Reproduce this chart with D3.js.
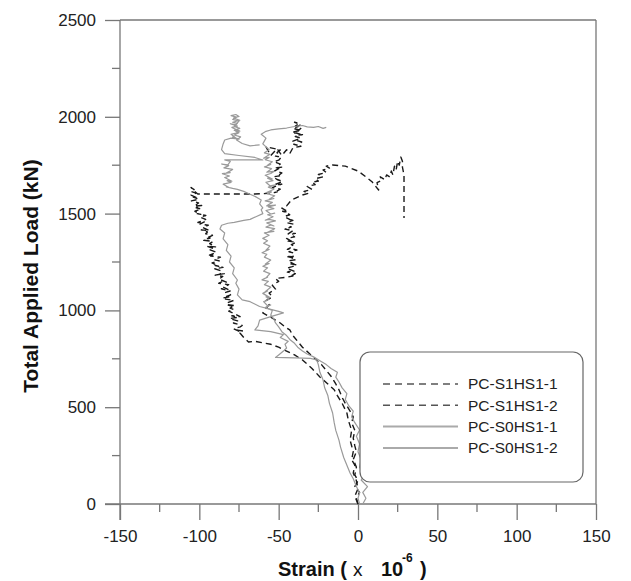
<!DOCTYPE html>
<html><head><meta charset="utf-8">
<script src="https://cdn.jsdelivr.net/npm/d3@7"></script>
<style>body{margin:0;background:#fff}svg{display:block}</style>
</head><body><svg id="c" width="631" height="581"></svg>
<script>
const seriesNames = ["PC-S1HS1-1","PC-S1HS1-2","PC-S0HS1-1","PC-S0HS1-2"];
const xTicks = [-150,-100,-50,0,50,100,150];
const yTicks = [0,500,1000,1500,2000,2500];
const xMinor = [-125,-75,-25,25,75,125];
const yMinor = [250,750,1250,1750,2250];

// [strain (x10^-6), load (kN)]
const s1hs1_1 = [[0,0],[-1,30],[1,60],[-2,90],[0,120],[-2,150],[-1,190],[-3,230],[-1,270],[-2,300],[-3,340],[-2,380],[-4,420],[-3,450],[-5,480],[-8,520],[-10,550],[-12,590],[-14,620],[-17,660],[-20,690],[-23,720],[-27,750],[-31,780],[-35,810],[-38,840],[-41,870],[-43,899],[-46,915],[-49,935],[-54,960],[-60,987],[-58,1010],[-56,1030],[-58,1050],[-54,1070],[-56,1090],[-52,1110],[-54,1130],[-50,1150],[-52,1165],
[-46,1170],[-41,1178],[-43,1174],[-39.5,1190],[-44.5,1198],[-42,1206],[-40,1201],[-45,1218],[-41.5,1226],[-38.5,1235],[-43,1241],[-40,1238],[-44,1256],[-39,1262],[-42.5,1274],[-45.5,1280],[-41,1277],[-40,1295],[-43.5,1303],[-38.5,1312],[-42,1318],[-44.5,1315],[-40.5,1333],[-42,1340],[-39,1352],[-44,1358],[-41.5,1355],[-45,1372],[-40,1380],[-42.5,1392],[-39.5,1398],[-44,1395],[-41,1412],[-46,1420],[-42,1431],[-43.5,1427],[-40.5,1445],[-45,1453],[-41,1465],[-44,1472],[-42.5,1468],[-46.5,1485],[-43,1494],[-45,1505],[-47.5,1512],[-44,1509],[-48,1528],[-45,1540],
[-42,1570],[-38,1585],[-35,1596],[-31,1605],[-34,1615],[-29,1625],[-32,1640],[-27,1650],[-29,1662],[-25,1668],[-27,1680],[-22,1690],[-25,1702],[-20,1712],[-22,1725],[-18,1735],[-20,1745],[-16,1751],[-8,1745],[0,1720],[5,1690],[9,1663],[13,1622],[12,1660],[15,1672],[14,1690],[17,1675],[18,1700],[20,1690],[21,1720],[22,1700],[23,1745],[24,1725],[25,1770],[26,1750],[27,1792],[28,1770],[28,1740],[29,1700],[29,1620],[29,1560],[29,1477]];
const s1hs1_2 = [[0,0],[-2,40],[0,80],[-1,120],[-3,160],[-2,200],[-4,230],[-3,270],[-5,330],[-4,380],[-6,430],[-7,470],[-10,520],[-13,560],[-15,590],[-19,620],[-24,656],[-29,700],[-35,744],[-40,770],[-45,790],[-50,810],[-55,825],[-60,833],[-65,840],[-69,837],[-72,860],
[-74.4,883],[-72.3,893],[-76,898],[-74.2,890],[-78.3,905],[-74.2,915],[-73,922],[-78.5,935],[-76.8,930],[-75.9,946],[-80.9,958],[-75.7,964],[-79.5,972],[-74.3,968],[-78.5,985],[-81.5,996],[-78.3,1004],[-80.6,1012],[-77.6,1025],[-83.3,1030],[-79.5,1022],[-82.2,1040],[-78.2,1052],[-83.5,1058],[-80.9,1070],[-85.2,1064],[-80.3,1080],[-83.4,1093],[-80.6,1100],[-86.1,1112],[-82,1108],[-85,1120],[-81.5,1133],[-87.8,1140],[-85.2,1150],[-83,1146],[-87.7,1162],[-85.2,1175],[-90,1182],[-84.3,1190],[-87.1,1186],[-85.8,1203],[-90.3,1215],[-85.1,1222],[-90,1232],[-87.8,1228],[-92,1245],[-87.4,1256],[-90.7,1262],[-86.7,1275],[-92.9,1281],[-90.8,1290],[-93.6,1286],[-89.2,1300],[-93.2,1313],[-91,1320],[-95.5,1332],[-89.8,1328],[-93.5,1345],[-91.4,1356],[-97.2,1362],[-93.2,1374],[-96,1370],[-91.7,1388],[-96,1396],[-94.9,1405],[-98.8,1416],[-93.7,1412],[-97.8,1428],[-94.3,1440],[-99.6,1446],[-96.6,1458],[-100.9,1454],[-96,1470],[-99.5,1482],[-95.9,1490],[-101.3,1500],[-99.1,1496],[-102.8,1512],[-98.8,1524],[-102,1530],[-98.5,1542],[-103.3,1538],[-100.5,1555],[-105,1566],[-100.3,1574],[-103.8,1585],[-101.1,1580],[-105.2,1596],[-102.1,1606],[-105.5,1615],[-103.3,1624],[-105.2,1635],
[-103,1615],[-101,1601],[-65,1601],
[-55,1605],[-51,1612],[-53,1608],[-49,1626],[-54,1634],[-50.5,1646],[-48,1652],[-52.5,1649],[-47.5,1666],[-51,1676],[-53.5,1690],[-49.5,1695],[-51,1692],[-48,1710],[-52.5,1721],[-50,1732],[-47.5,1740],[-51.5,1737],[-49,1756],[-53,1768],[-50,1776],[-48.5,1790],[-52,1797],[-49.5,1794],[-51,1815],[-49,1829],
[-58,1845],[-55,1800],[-51,1835],[-48,1800],[-45,1830],[-43,1810],[-41,1840],
[-36,1848],[-40.5,1858],[-38,1853],[-35.5,1870],[-39,1878],[-41,1874],[-36,1890],[-39.5,1898],[-35,1908],[-38.5,1904],[-40.5,1922],[-36.5,1930],[-38,1926],[-35.5,1944],[-39.5,1952],[-37,1966],[-40,1972],[-36,1960],[-38.5,1948],[-41,1940],[-37,1932],[-39.5,1918],[-36.5,1910],[-38,1898]];
const s0hs1_1 = [[1,0],[0,30],[1,57],[-1,90],[-3,130],[-5,160],[-7,200],[-9,240],[-11,294],[-12,330],[-14,380],[-15,420],[-16,470],[-18,520],[-19,560],[-21,600],[-22,640],[-24,680],[-25,720],[-26,744],[-30,752],[-40,755],[-52,757],[-50,770],[-47,790],[-45,806],[-46,825],[-44,840],[-49,860],[-47,875],[-55,890],[-65,899],[-63,920],[-62,950],[-55,968],[-47,987],[-50,995],[-55,1005],[-62,1020],[-68,1045],[-73,1054],[-76,1080],[-75,1110],[-77,1140],[-76,1157],[-79,1190],[-78,1220],[-81,1250],[-80,1280],[-83,1310],[-82,1340],[-85,1370],[-84,1400],[-87,1420],[-86,1440],[-82,1450],[-78,1455],[-72,1465],[-68,1470],[-64,1485],[-60,1500],[-61,1520],[-60,1530],[-62,1550],[-61,1570],[-64,1585],[-68,1600],[-72,1615],[-76,1625],
[-79,1630],[-83,1638],[-81,1634],[-85,1652],[-80,1661],[-82.5,1670],[-79.5,1667],[-84,1686],[-81,1694],[-85.5,1706],[-80.5,1712],[-83,1709],[-79,1728],[-84.5,1736],[-81.5,1748],[-86,1756],[-82,1752],[-80.5,1770],[-84,1777],[-80,1777],[-70,1778],[-60,1777],[-65,1790],[-75,1800],[-84,1810],[-86,1830],[-85,1860],[-84,1880],[-80,1890],
[-75,1885],[-79,1895],[-77,1891],[-80,1910],[-75.5,1918],[-78,1930],[-74.5,1926],[-79.5,1945],[-76,1952],[-80.5,1964],[-77,1960],[-75,1978],[-79,1986],[-76.5,1998],[-80,2006],[-77,2012],[-75,2002],[-78.5,1994],[-74.5,1982],[-79,1972],[-76,1966],[-78,1950],[-74.5,1940],[-77.5,1932],[-75,1918],[-78,1906],[-74,1896],[-76.5,1880],[-73,1862],[-68,1850],[-62,1855]];
const s0hs1_2 = [[3,0],[5,30],[3,60],[6,90],[2,124],[4,150],[1,190],[2,230],[0,270],[1,310],[-1,350],[1,382],[-2,420],[-4,450],[-3,480],[-6,510],[-8,540],[-7,570],[-10,600],[-12,630],[-14,655],[-13,680],[-17,700],[-20,720],[-24,740],[-28,760],[-32,775],[-35,790],[-38,810],[-40,830],[-43,850],[-45,870],[-48,890],[-50,915],[-52,935],[-53,955],[-55,975],[-54,1000],
[-58.5,1015],[-55,1028],[-57,1024],[-59.5,1045],[-56,1058],[-58,1070],[-55.5,1066],[-60,1088],[-57,1101],[-58.5,1097],[-55,1120],[-59,1133],[-56.5,1150],[-60.5,1158],[-57,1172],[-58,1168],[-55.5,1190],[-59.5,1203],[-57,1220],[-60,1228],[-56,1242],[-58.5,1238],[-55,1260],[-59,1275],[-57.5,1290],[-60.5,1298],[-56,1315],[-58,1311],[-55.5,1332],[-59.5,1347],[-57,1360],[-60,1372],[-56,1388],[-59,1400],
[-53,1408],[-57,1404],[-52.5,1422],[-58,1430],[-55,1441],[-53,1436],[-57.5,1452],[-52,1462],[-56,1470],[-58.5,1466],[-53.5,1484],[-57,1494],[-52.5,1502],[-55,1498],[-58,1516],[-53,1526],[-56.5,1535],[-52,1544],[-57.5,1540],[-54,1558],[-58.5,1566],[-53,1578],[-56,1574],[-52.5,1592],[-57,1602],[-54.5,1612],[-58,1608],[-53,1626],[-56.5,1637],[-52,1648],[-55.5,1644],[-58,1662],[-53.5,1670],[-57,1683],[-54,1679],[-58.5,1698],[-55,1707],[-53,1718],[-57.5,1714],[-54.5,1732],[-59,1741],[-55,1754],[-57,1750],[-54,1768],[-58.5,1778],[-56,1790],[-59.5,1786],[-55.5,1806],[-59,1814],[-56,1830],
[-60,1860],[-58,1890],[-61,1910],[-58,1925],[-55,1932],[-50,1938],[-45,1942],[-40,1950],[-35,1955],[-32,1948],[-28,1945],[-25,1950],[-22,1940],[-20,1945]];

const seriesData = [s1hs1_1, s1hs1_2, s0hs1_1, s0hs1_2];
const seriesStyle = [
  {stroke:"#1a1a1a", dash:"6,4", w:1.4},
  {stroke:"#1a1a1a", dash:"6,4", w:1.4},
  {stroke:"#9a9a9a", dash:null, w:1.2},
  {stroke:"#9a9a9a", dash:null, w:1.2}
];
const legendStyle = [
  {stroke:"#555", dash:"7,5", w:1.5},
  {stroke:"#555", dash:"7,5", w:1.5},
  {stroke:"#aaa", dash:null, w:2},
  {stroke:"#aaa", dash:null, w:2}
];

const svg = d3.select("#c");
const L=120, R=596, T=20, B=504;
const x = d3.scaleLinear().domain([-150,150]).range([L,R]);
const y = d3.scaleLinear().domain([0,2500]).range([B,T]);
const axisColor = "#777";
const font = "'Liberation Sans', Arial, sans-serif";

svg.append("line").attr("x1",L).attr("x2",R).attr("y1",T).attr("y2",T).attr("stroke",axisColor).attr("stroke-width",1.3);
svg.append("line").attr("x1",R).attr("x2",R).attr("y1",T).attr("y2",B).attr("stroke",axisColor).attr("stroke-width",1.3);

const gx = svg.append("g").attr("transform",`translate(0,${B})`)
  .call(d3.axisBottom(x).tickValues(xTicks).tickSize(16).tickPadding(10).tickFormat(d=>String(d)));
gx.append("g").selectAll("line").data(xMinor).join("line")
  .attr("x1",d=>x(d)).attr("x2",d=>x(d)).attr("y1",0).attr("y2",8).attr("stroke",axisColor).attr("stroke-width",1.3);
const gy = svg.append("g").attr("transform",`translate(${L},0)`)
  .call(d3.axisLeft(y).tickValues(yTicks).tickSize(15).tickPadding(9).tickFormat(d=>String(d)));
gy.append("g").selectAll("line").data(yMinor).join("line")
  .attr("x1",-8).attr("x2",0).attr("y1",d=>y(d)).attr("y2",d=>y(d)).attr("stroke",axisColor).attr("stroke-width",1.3);
[gx,gy].forEach(g=>{
  g.select(".domain").remove();
  g.selectAll(".tick line").attr("stroke",axisColor).attr("stroke-width",1.3);
  g.selectAll("text").attr("font-family",font).attr("font-size",17).attr("fill","#222");
});
svg.append("line").attr("x1",L-15).attr("x2",R).attr("y1",B).attr("y2",B).attr("stroke",axisColor).attr("stroke-width",1.3);
svg.append("line").attr("x1",L).attr("x2",L).attr("y1",T).attr("y2",B+16).attr("stroke",axisColor).attr("stroke-width",1.3);

const line = d3.line().x(d=>x(d[0])).y(d=>y(d[1]));
seriesData.forEach((data,i)=>{
  const s = seriesStyle[i];
  svg.append("path").datum(data).attr("d",line).attr("fill","none")
    .attr("stroke",s.stroke).attr("stroke-width",s.w)
    .attr("stroke-dasharray",s.dash).attr("stroke-linejoin","round");
});

svg.append("rect").attr("x",360).attr("y",352).attr("width",223).attr("height",130).attr("rx",10)
  .attr("fill","#fff").attr("stroke","#666").attr("stroke-width",1.2);
seriesNames.forEach((n,i)=>{
  const yy = 384 + i*21.3;
  const s = legendStyle[i];
  svg.append("line").attr("x1",383).attr("x2",458).attr("y1",yy).attr("y2",yy)
    .attr("stroke",s.stroke).attr("stroke-width",s.w).attr("stroke-dasharray",s.dash);
  svg.append("text").attr("x",468).attr("y",yy).attr("dy","0.35em").attr("font-family",font)
    .attr("font-size",15.5).attr("fill","#222").text(n);
});

svg.append("text").attr("transform","translate(38,276) rotate(-90)").attr("text-anchor","middle")
  .attr("font-family",font).attr("font-size",21).attr("font-weight","bold").attr("fill","#111")
  .text("Total Applied Load (kN)");
const xt = svg.append("g").attr("font-family",font).attr("fill","#111");
xt.append("text").attr("x",278).attr("y",576).attr("font-size",20).attr("font-weight","bold").text("Strain (");
xt.append("text").attr("x",353).attr("y",576).attr("font-size",19).text("x");
xt.append("text").attr("x",381).attr("y",576).attr("font-size",20).attr("font-weight","bold").text("10");
xt.append("text").attr("x",402).attr("y",562).attr("font-size",12).attr("font-weight","bold").text("-6");
xt.append("text").attr("x",420).attr("y",576).attr("font-size",20).attr("font-weight","bold").text(")");
</script></body></html>
